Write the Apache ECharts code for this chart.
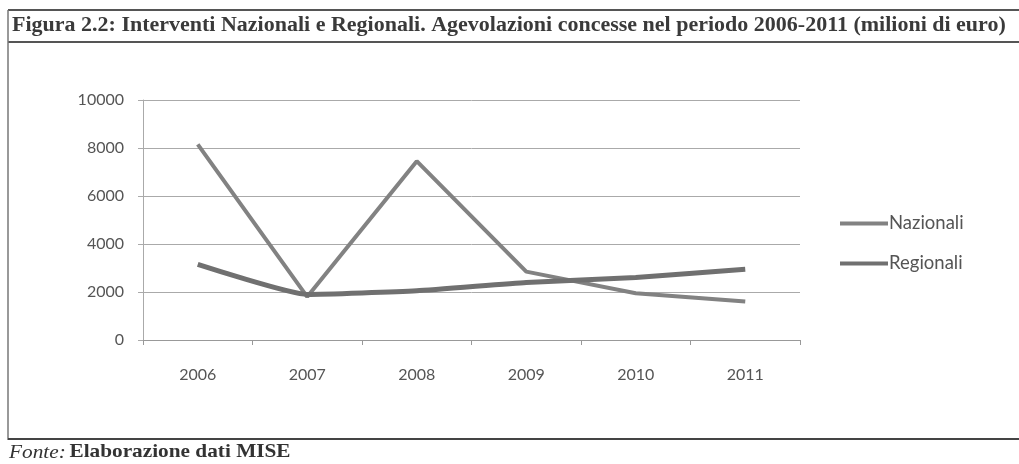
<!DOCTYPE html>
<html><head><meta charset="utf-8">
<script src="https://cdn.jsdelivr.net/npm/echarts@6/dist/echarts.min.js"></script>
<style>html,body{margin:0;padding:0;background:#fff}#c{width:1019px;height:464px}</style>
</head><body><div id="c"></div>
<script>
const years = ['2006','2007','2008','2009','2010','2011'];
const nazionali = [8150, 1800, 7450, 2850, 1950, 1600];
const regionali = [3150, 1900, 2050, 2400, 2600, 2950];
const yTicks = [0, 2000, 4000, 6000, 8000, 10000];

const chart = echarts.init(document.getElementById('c'), null, {renderer:'canvas'});
const axisFont = {fontFamily:'Lato', fontSize:16, color:'#555'};
chart.setOption({
  animation:false,
  backgroundColor:'#fff',
  grid:{left:143, right:219, top:100, bottom:124},
  legend:{
    orient:'vertical', left:835, top:209, itemGap:21,
    itemWidth:48, itemHeight:4, icon:'rect',
    textStyle:{fontFamily:'Lato', fontSize:18.5, color:'#555', padding:[0,0,0,-4]},
    data:['Nazionali','Regionali']
  },
  xAxis:{
    type:'category', data:years, boundaryGap:true,
    axisLine:{lineStyle:{color:'#999', width:1}},
    axisTick:{show:true, length:5, lineStyle:{color:'#999'}},
    axisLabel:Object.assign({margin:27}, axisFont)
  },
  yAxis:{
    type:'value', min:yTicks[0], max:yTicks[yTicks.length-1], interval:2000,
    axisLine:{show:true, lineStyle:{color:'#aaa'}},
    axisTick:{show:true, length:5, lineStyle:{color:'#aaa'}},
    splitLine:{lineStyle:{color:'#aaa', width:1}},
    axisLabel:Object.assign({margin:19, formatter:v => String(v)}, axisFont)
  },
  series:[
    {name:'Nazionali', type:'line', data:nazionali, symbol:'none',
     lineStyle:{color:'#828282', width:4}, itemStyle:{color:'#828282'}},
    {name:'Regionali', type:'line', data:regionali, symbol:'none', smooth:0.15,
     lineStyle:{color:'#707070', width:5}, itemStyle:{color:'#707070'}}
  ],
  graphic:[
    {type:'line', shape:{x1:8,y1:10,x2:1019,y2:10}, style:{stroke:'#555', lineWidth:2}},
    {type:'line', shape:{x1:8,y1:42,x2:1019,y2:42}, style:{stroke:'#555', lineWidth:2}},
    {type:'line', shape:{x1:8,y1:10,x2:8,y2:440}, style:{stroke:'#777', lineWidth:1.5}},
    {type:'line', shape:{x1:8,y1:439,x2:1019,y2:439}, style:{stroke:'#444', lineWidth:2}},
    {type:'text', x:12, y:16, scaleX:1.1, style:{
      text:'Figura 2.2: Interventi Nazionali e Regionali. Agevolazioni concesse nel periodo 2006-2011 (milioni di euro)',
      font:'bold 20px "Liberation Serif"', fill:'#3a3a3a'}},
    {type:'text', x:9, y:443, scaleX:1.12, style:{
      text:'{i|Fonte:} {b|Elaborazione dati MISE}',
      rich:{i:{fontFamily:'Liberation Serif', fontStyle:'italic', fontSize:19, fill:'#333', color:'#333'},
            b:{fontFamily:'Liberation Serif', fontWeight:'bold', fontSize:19, fill:'#333', color:'#333'}}}}
  ]
});
</script></body></html>
